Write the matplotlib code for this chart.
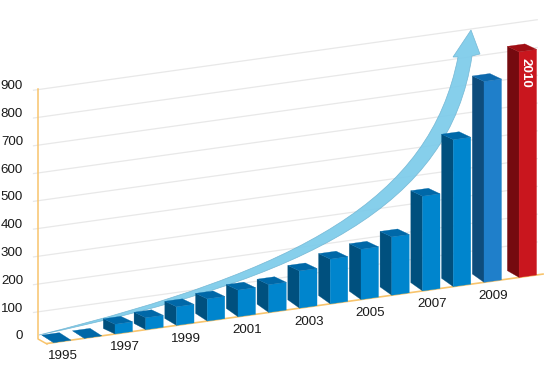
from matplotlib import pyplot as plt
from matplotlib.patches import PathPatch, Polygon
from matplotlib.path import Path
from matplotlib.transforms import Affine2D

plt.rcParams['font.family'] = ['Liberation Sans', 'DejaVu Sans']

# Data
years = [1995, 1996, 1997, 1998, 1999, 2000, 2001, 2002,
         2003, 2004, 2005, 2006, 2007, 2008, 2009, 2010]
values = [0, 0, 35, 43, 67, 80, 96, 100,
          134, 161, 181, 210, 341, 529, 723, 812]
y_ticks = [0, 100, 200, 300, 400, 500, 600, 700, 800, 900]

GAP_2010 = 0.14      # extra space before the last bar, in slots
WIDTH = 0.57         # front face width, in slots
DEPTH = 0.38         # side face depth, in slots
SCALE = 0.2778       # pixels per value unit
SHEAR = 4.305        # pixels the floor rises per slot

fig = plt.figure(figsize=(5.5, 3.65), dpi=100)
ax = fig.add_axes([0, 0, 1, 1])
ax.set_xlim(0, 550)
ax.set_ylim(365, 0)
ax.axis('off')

# Slanted scale: (slot, value) -> picture pixels
slant = Affine2D.from_values(30.75, -SHEAR, 0, -SCALE, 53.5, 342.6) + ax.transData


def lift(px):
    # value units that raise a point px pixels above the floor along the depth axis
    return (px + DEPTH * SHEAR) / SCALE


# Grid lines on the back wall
wall_lift = 18.5
for v in y_ticks[1:]:
    ax.plot([-0.67, 15.75], [v + wall_lift, v + wall_lift], color='#e8e8e8',
            lw=0.9, transform=slant, zorder=1, solid_capstyle='butt')
for v in y_ticks:
    ax.text(23, 339 - v * SCALE - 2.6, str(v), ha='right', va='center',
            fontsize=9.6, color='#1a1a1a')

# Orange axis and floor edge
axis_color = '#f8c46c'
ax.plot([38, 38, 47], [89, 339, 344], color=axis_color, lw=1.1, zorder=2)
ax.plot([-0.21, 15.92], [0, 0], color=axis_color, lw=1.2, transform=slant, zorder=2)

# Big arrow behind the bars
arrow_verts = [(39, 335), (300, 270), (430, 200), (458, 57),
               (453, 57), (471, 30), (480, 54), (472, 56),
               (450, 205), (310, 278), (39, 335), (39, 335)]
arrow_codes = [Path.MOVETO, Path.CURVE4, Path.CURVE4, Path.CURVE4,
               Path.LINETO, Path.LINETO, Path.LINETO, Path.LINETO,
               Path.CURVE4, Path.CURVE4, Path.CURVE4, Path.CLOSEPOLY]
ax.add_patch(PathPatch(Path(arrow_verts, arrow_codes), facecolor='#7ccbea',
                       edgecolor='#6fb4d2', lw=0.5, alpha=0.92, zorder=3))

# Bars
colors = {'front': '#0085cd', 'side': '#00507e', 'top': '#0068a8'}
colors_2009 = {'front': '#1f7fca', 'side': '#0e4c7c', 'top': '#0d69ad'}
colors_2010 = {'front': '#c9161e', 'side': '#750a0f', 'top': '#a00e14'}

for i, (year, v) in enumerate(zip(years, values)):
    s = i + (GAP_2010 if year == 2010 else 0)
    c = colors_2009 if year == 2009 else colors_2010 if year == 2010 else colors
    foot = min(8.3, 5.5 + 0.7 * max(i - 2, 0))
    if year == 2010:
        foot = 6.7
    if v == 0:
        foot = 7.5
    crown = foot if v == 0 else 5.5
    side = [(s, 0), (s, v), (s - DEPTH, v + lift(crown)), (s - DEPTH, lift(foot))]
    front = [(s, 0), (s + WIDTH, 0), (s + WIDTH, v), (s, v)]
    top = [(s, v), (s + WIDTH, v), (s + WIDTH - DEPTH, v + lift(crown)),
           (s - DEPTH, v + lift(crown))]
    for verts, key in ((side, 'side'), (front, 'front'), (top, 'top')):
        ax.add_patch(Polygon(verts, closed=True, facecolor=c[key], edgecolor=c[key],
                             lw=0.2, transform=slant, zorder=4))
    if year % 2 == 1:
        ax.annotate(str(year), xy=(s, 0), xycoords=slant, xytext=(9.5, -13.5),
                    textcoords='offset pixels', ha='center', va='center',
                    fontsize=9.6, color='#1a1a1a', zorder=5)
    if year == 2010:
        ax.annotate(str(year), xy=(s + 0.285, v), xycoords=slant, xytext=(-2, -22),
                    textcoords='offset pixels', ha='center', va='center', rotation=270,
                    fontsize=9.6, fontweight='bold', color='white', zorder=5)

plt.savefig('out.png', dpi=100)
